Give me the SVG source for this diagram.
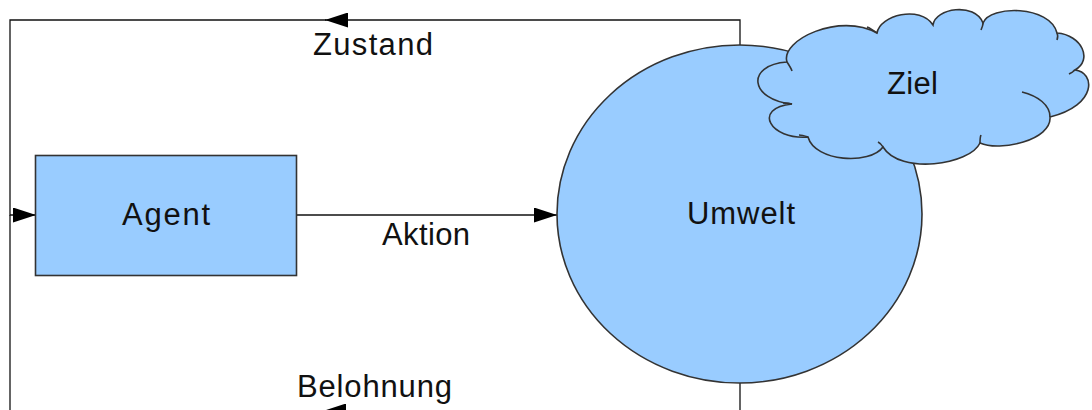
<svg xmlns="http://www.w3.org/2000/svg" width="1092" height="410" viewBox="0 0 1092 410">
  <style>
    .shape { fill: #99ccff; stroke: #333333; stroke-width: 1.6; }
    .curl { fill: none; stroke: #333333; stroke-width: 1.6; }
    .conn { fill: none; stroke: #111111; stroke-width: 1.3; }
    .lbl { font-family: "Liberation Sans", Arial, sans-serif; font-size: 31px; fill: #111111; }
  </style>
  <defs>
    <marker id="arrow" markerUnits="userSpaceOnUse" viewBox="0 0 23 15" refX="23" refY="7.5" markerWidth="23" markerHeight="15" orient="auto">
      <path d="M0 0 L23 7.5 L0 15 Z" fill="#000000"/>
    </marker>
  </defs>
  <rect width="1092" height="410" fill="#ffffff"/>

  <g id="connectors">
    <path class="conn" d="M740 45 V20 H325" marker-end="url(#arrow)"/>
    <path class="conn" d="M326 20 H10 V215 H36" marker-end="url(#arrow)"/>
    <path class="conn" d="M10 215 V412"/>
    <path class="conn" d="M296 215 H557" marker-end="url(#arrow)"/>
    <path class="conn" d="M740 383 V411 H323" marker-end="url(#arrow)"/>
    <path class="conn" d="M324 411 H10"/>
  </g>

  <g id="agent">
    <rect class="shape" x="35.5" y="155.5" width="261" height="120"/>
    <text class="lbl" x="122" y="225" textLength="88" lengthAdjust="spacing">Agent</text>
  </g>

  <g id="umwelt">
    <ellipse class="shape" cx="739.5" cy="214" rx="182.5" ry="169"/>
    <text class="lbl" x="687" y="224" textLength="108" lengthAdjust="spacing">Umwelt</text>
  </g>

  <g id="ziel">
    <path class="shape" d="M787 62
      C 780 40, 840 12, 877 33
      C 880 15, 920 5, 933 25
      C 935 8, 975 2, 983 23
      C 990 5, 1050 5, 1057 33
      C 1082 35, 1093 60, 1075 70
      C 1095 72, 1098 105, 1050 117
      C 1052 140, 1000 152, 980 143
      C 970 165, 900 175, 883 147
      C 870 165, 815 162, 808 137
      C 770 140, 752 108, 792 104
      C 750 100, 745 65, 787 62 Z"/>
    <path class="curl" d="M787 62 C 789 65, 791 68, 792 71"/>
    <path class="curl" d="M877 33 C 873 30, 870 28, 867 27"/>
    <path class="curl" d="M983 23 C 983 26, 982 28, 981 30"/>
    <path class="curl" d="M1057 33 C 1058 35, 1058 37, 1057 40"/>
    <path class="curl" d="M1075 70 C 1073 72, 1071 73, 1069 74"/>
    <path class="curl" d="M1022 92 C 1038 96, 1050 105, 1050 117"/>
    <path class="curl" d="M980 143 C 980 140, 980 137, 981 135"/>
    <path class="curl" d="M883 147 C 882 145, 880 143, 878 142"/>
    <path class="curl" d="M808 137 C 805 136, 802 135, 799 135"/>
    <path class="curl" d="M792 104 C 789 103, 786 103, 783 103"/>
    <text class="lbl" x="887" y="94" textLength="51" lengthAdjust="spacing">Ziel</text>
  </g>

  <g id="labels">
    <text class="lbl" x="313" y="55" textLength="120" lengthAdjust="spacing">Zustand</text>
    <text class="lbl" x="382" y="245" textLength="88" lengthAdjust="spacing">Aktion</text>
    <text class="lbl" x="297" y="397" textLength="155" lengthAdjust="spacing">Belohnung</text>
  </g>
</svg>
